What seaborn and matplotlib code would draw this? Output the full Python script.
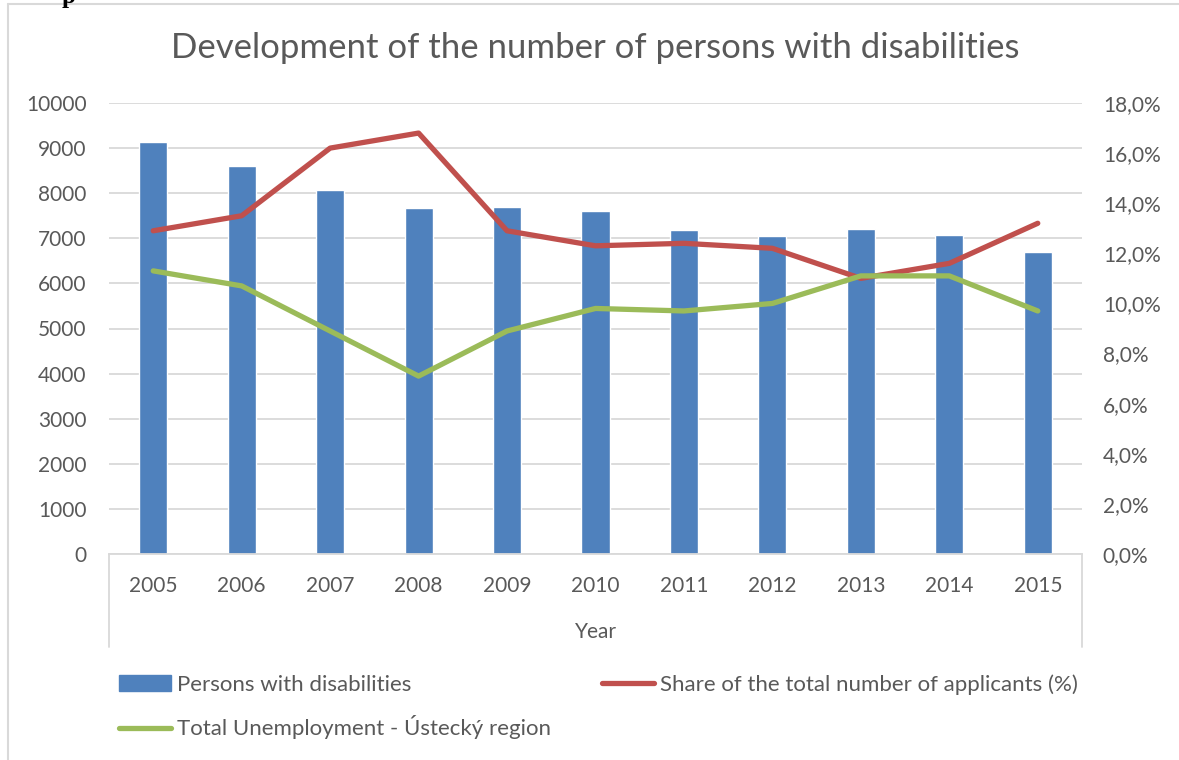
import matplotlib
matplotlib.use("Agg")
import matplotlib.pyplot as plt
from matplotlib.lines import Line2D
from matplotlib.patches import Patch
from matplotlib.ticker import FuncFormatter
import pandas as pd
import seaborn as sns

# --- data ---
years = ["2005", "2006", "2007", "2008", "2009", "2010",
         "2011", "2012", "2013", "2014", "2015"]
persons = [9130, 8600, 8080, 7670, 7700, 7600, 7180, 7050, 7200, 7070, 6700]
share = [12.9, 13.5, 16.2, 16.8, 12.9, 12.3, 12.4, 12.2, 11.0, 11.6, 13.2]
unemployment = [11.3, 10.7, 8.9, 7.1, 8.9, 9.8, 9.7, 10.0, 11.1, 11.1, 9.7]

df = pd.DataFrame({"Year": years, "Persons": persons,
                   "Share": share, "Unemployment": unemployment})

BLUE = "#4F81BD"
RED = "#C0504D"
GREEN = "#9BBB59"
TEXT = "#595959"
GRID = "#D9D9D9"

sns.set_theme(style="white")
plt.rcParams["font.family"] = ["Lato", "DejaVu Sans"]

W, H = 1179, 760
fig = plt.figure(figsize=(W / 100, H / 100), dpi=100)

# plot area in pixel terms: x 109..1082, y 103..554
ax = fig.add_axes([109 / W, 1 - 554 / H, (1082 - 109) / W, (554 - 103) / H])

sns.barplot(data=df, x="Year", y="Persons", color=BLUE, saturation=1,
            width=0.317, ax=ax)

ax2 = ax.twinx()
sns.lineplot(data=df, x="Year", y="Share", color=RED, lw=3.8, sort=False,
             ax=ax2, solid_joinstyle="round", solid_capstyle="round")
sns.lineplot(data=df, x="Year", y="Unemployment", color=GREEN, lw=3.8,
             sort=False, ax=ax2, solid_joinstyle="round", solid_capstyle="round")

ax.set_xlim(-0.5, 10.5)
ax.set_ylim(0, 10000)
ax.set_yticks(range(0, 10001, 1000))
ax2.set_ylim(0, 18)
ax2.set_yticks(range(0, 19, 2))
ax2.yaxis.set_major_formatter(FuncFormatter(lambda v, p: f"{v:.1f}%".replace(".", ",")))

ax.yaxis.grid(True, color=GRID, lw=1.3)
ax.set_axisbelow(True)

for s in ["top", "left", "right"]:
    ax.spines[s].set_visible(False)
ax.spines["bottom"].set_color(GRID)
ax.spines["bottom"].set_linewidth(1.3)
for s in ax2.spines.values():
    s.set_visible(False)

ax.tick_params(axis="both", length=0, labelsize=15, labelcolor=TEXT)
ax.tick_params(axis="x", pad=16)
ax.tick_params(axis="y", pad=16)
ax2.tick_params(axis="y", length=0, labelsize=15, labelcolor=TEXT, pad=15)

ax.set_ylabel("")
ax2.set_ylabel("")
ax.set_xlabel("Year", fontsize=15, color=TEXT)
ax.xaxis.set_label_coords(0.5, -0.151)

# vertical borders of the category axis box
for xp in (109, 1082):
    fig.add_artist(Line2D([xp / W, xp / W], [1 - 554 / H, 1 - 647 / H],
                          color=GRID, lw=1.3))

# outer chart border (left and top)
fig.add_artist(Line2D([8 / W, 8 / W], [0, 1 - 4 / H], color=GRID, lw=1.5))
fig.add_artist(Line2D([8 / W, 1], [1 - 4 / H, 1 - 4 / H], color=GRID, lw=1.5))

# bit of heading from the page above (cut off in the source too)
fig.text(62 / W, 1 - 3 / H, "p", family="Liberation Serif", weight="bold",
         fontsize=18, color="black", va="baseline")

fig.text(595 / W, 1 - 48 / H, "Development of the number of persons with disabilities",
         ha="center", va="center", fontsize=25, color=TEXT)

handles = [Patch(color=BLUE),
           Line2D([], [], color=GREEN, lw=3.8, solid_capstyle="round"),
           Line2D([], [], color=RED, lw=3.8, solid_capstyle="round")]
labels = ["Persons with disabilities",
          "Total Unemployment - Ústecký region",
          "Share of the total number of applicants (%)"]
fig.legend(handles, labels, ncol=2, loc="upper left",
           bbox_to_anchor=(108 / W, 1 - 663 / H), frameon=False,
           fontsize=16, labelcolor=TEXT, handlelength=2.35, handletextpad=0.27,
           columnspacing=2.28, labelspacing=0.93, borderpad=0)

fig.savefig("out.png", dpi=100)
